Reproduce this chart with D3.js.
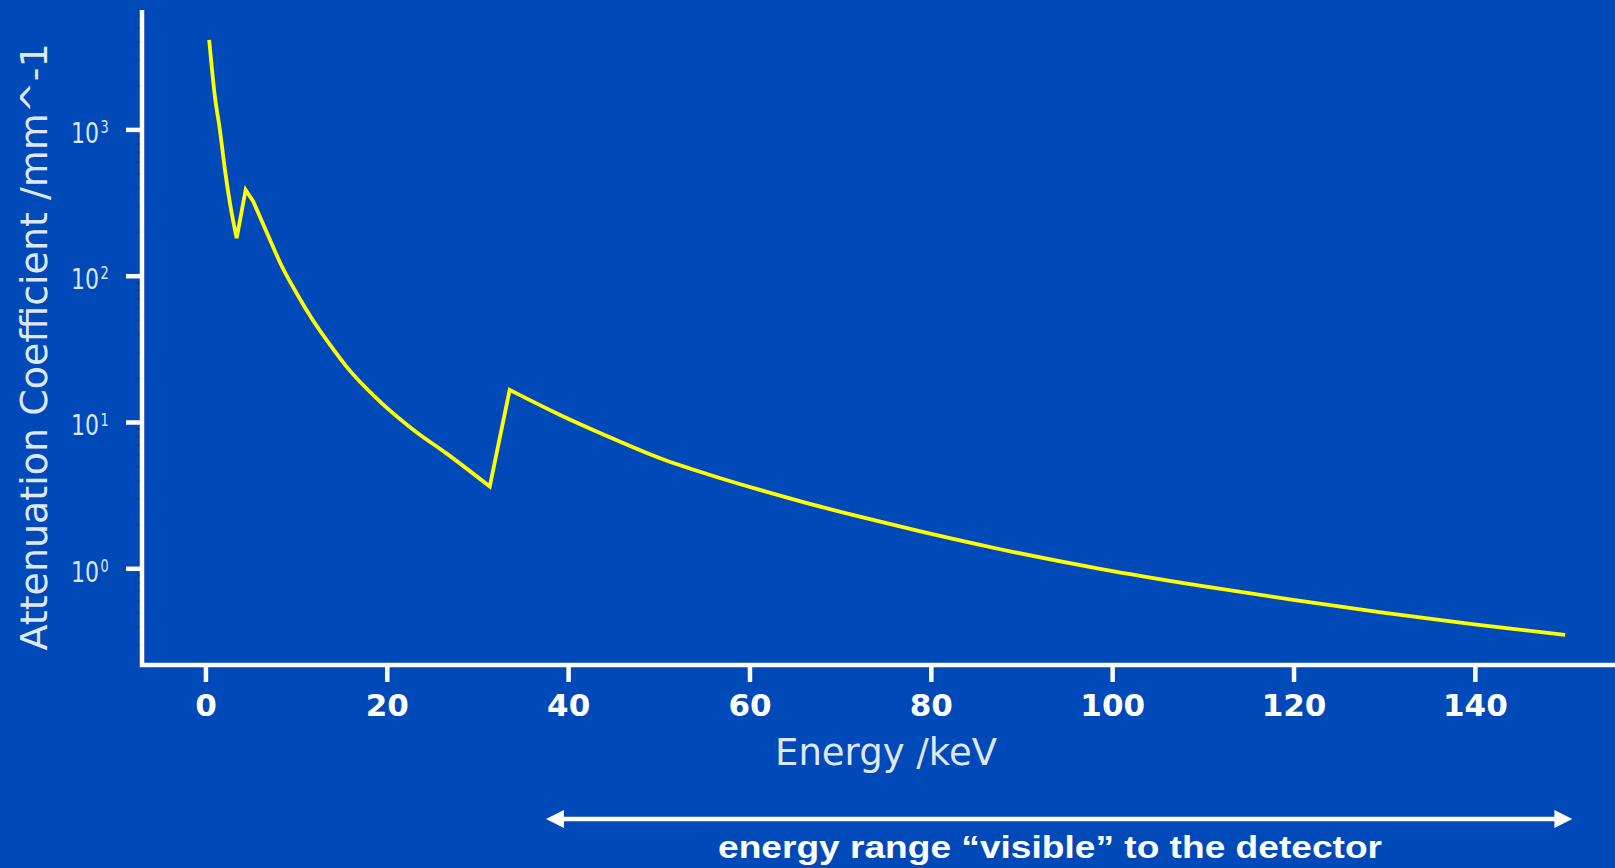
<!DOCTYPE html>
<html>
<head>
<meta charset="utf-8">
<script src="https://cdn.jsdelivr.net/npm/d3@7"></script>
<style>
  html, body { margin: 0; padding: 0; background: #0049b9; }
  svg { display: block; }
</style>
</head>
<body>
<svg id="chart" width="1615" height="868"></svg>
<script>
// energy (keV) and attenuation coefficient (mm^-1)
var energy = [0.36, 0.99, 1.54, 2.1, 2.65, 3.39, 4.38, 5.22, 7.4, 8.2, 10.0, 11.8, 13.7, 15.5, 19.2, 22.9, 26.6, 31.3,
  33.5, 39.0, 44.6, 50.1, 55.6, 61.1, 66.6, 72.1, 78.8, 87.6, 98.6, 109.6, 120.1, 129.8, 140.1, 149.9];
var mu = [4120, 1690, 1000, 533, 316, 182, 389, 324, 159, 123, 76.5, 50, 33.9, 24.1, 13.9, 8.9, 6.1, 3.65,
  16.7, 11.3, 7.9, 5.7, 4.38, 3.46, 2.78, 2.27, 1.80, 1.36, 1.00, 0.767, 0.61, 0.502, 0.416, 0.353];
// absorption edges: the curve breaks sharply at these energies
var edges = [3.39, 4.38, 5.22, 31.3, 33.5];

var xTicks = [0, 20, 40, 60, 80, 100, 120, 140];
var yTicks = [1, 10, 100, 1000];
var yTickExp = ["0", "1", "2", "3"];
var detectorRange = [37.5, 150.7];

var svg = d3.select("#chart"),
  width = +svg.attr("width"),
  height = +svg.attr("height");

var x = d3.scaleLinear().domain([-7.05, 155.4]).range([142, width]);
var y = d3.scaleLog().domain([0.22, 6600]).range([665, 10]);

var light = "#dfe6f4";

// minor log ticks (dark, tiny)
var minor = [];
[0.1, 1, 10, 100, 1000].forEach(function(d) {
  for (var k = 2; k < 10; k++) {
    var v = d * k;
    if (v > 0.22 && v < 6600) minor.push(v);
  }
});
svg.append("g").selectAll("line")
  .data(minor)
  .enter().append("line")
  .attr("x1", 137).attr("x2", 141)
  .attr("y1", function(d) { return y(d); })
  .attr("y2", function(d) { return y(d); })
  .attr("stroke", "#1c2c5c")
  .attr("stroke-width", 1.6);

// y major ticks
var yt = svg.append("g").selectAll("g")
  .data(yTicks)
  .enter().append("g")
  .attr("transform", function(d) { return "translate(0," + y(d) + ")"; });
yt.append("line")
  .attr("x1", 126).attr("x2", 142)
  .attr("stroke", "#fff").attr("stroke-width", 4.5);
var lab = yt.append("g").attr("transform", "translate(99,0) scale(0.76,1)");
lab.append("text")
  .attr("y", 13)
  .attr("text-anchor", "end")
  .attr("font-family", "DejaVu Sans")
  .attr("font-size", 29)
  .attr("fill", light)
  .text("10");
lab.append("text")
  .attr("x", 2).attr("y", 3)
  .attr("font-family", "DejaVu Sans")
  .attr("font-size", 17)
  .attr("fill", light)
  .text(function(d, i) { return yTickExp[i]; });

// x ticks
var xt = svg.append("g").selectAll("g")
  .data(xTicks)
  .enter().append("g")
  .attr("transform", function(d) { return "translate(" + x(d) + ",0)"; });
xt.append("line")
  .attr("y1", 665).attr("y2", 682)
  .attr("stroke", "#fff").attr("stroke-width", 4.5);
xt.append("text")
  .attr("y", 716)
  .attr("text-anchor", "middle")
  .attr("font-family", "DejaVu Sans")
  .attr("font-weight", "bold")
  .attr("font-size", 31)
  .attr("fill", "#fff")
  .text(function(d) { return d; });

// axis spines
svg.append("path")
  .attr("d", "M142,10V665H" + width)
  .attr("fill", "none")
  .attr("stroke", "#fff")
  .attr("stroke-width", 4.5);

// curve: smooth between edges, straight across them
var pts = energy.map(function(e, i) { return [e, mu[i]]; });
var segs = [], cur = [];
pts.forEach(function(p) {
  cur.push(p);
  if (edges.indexOf(p[0]) >= 0 && cur.length > 1) {
    segs.push(cur);
    cur = [p];
  }
});
if (cur.length > 1) segs.push(cur);

var line = d3.line()
  .x(function(d) { return x(d[0]); })
  .y(function(d) { return y(d[1]); })
  .curve(d3.curveMonotoneX);

var dstr = segs.map(function(s, i) {
  var p = line(s);
  return i ? "L" + p.slice(1) : p;
}).join("");

svg.append("path")
  .attr("d", dstr)
  .attr("fill", "none")
  .attr("stroke", "#ffff00")
  .attr("stroke-width", 3.8)
  .attr("stroke-linejoin", "miter");

// axis labels
svg.append("text")
  .attr("transform", "translate(47,347) rotate(-90)")
  .attr("text-anchor", "middle")
  .attr("font-family", "DejaVu Sans")
  .attr("font-size", 38)
  .attr("fill", light)
  .text("Attenuation Coefficient /mm^-1");

svg.append("text")
  .attr("x", 886).attr("y", 765)
  .attr("text-anchor", "middle")
  .attr("font-family", "DejaVu Sans")
  .attr("font-size", 37)
  .attr("fill", light)
  .text("Energy /keV");

// detector range arrow
var ax0 = x(detectorRange[0]), ax1 = x(detectorRange[1]), ay = 819;
svg.append("line")
  .attr("x1", ax0 + 10).attr("x2", ax1 - 10)
  .attr("y1", ay).attr("y2", ay)
  .attr("stroke", "#fff").attr("stroke-width", 4.5);
svg.append("path")
  .attr("d", "M" + ax0 + "," + ay + "l18,-9v18z")
  .attr("fill", "#fff");
svg.append("path")
  .attr("d", "M" + ax1 + "," + ay + "l-18,-9v18z")
  .attr("fill", "#fff");

svg.append("text")
  .attr("x", 1050).attr("y", 858)
  .attr("text-anchor", "middle")
  .attr("font-family", "Liberation Sans, Arial, sans-serif")
  .attr("font-weight", "bold")
  .attr("font-size", 32)
  .attr("textLength", 664)
  .attr("lengthAdjust", "spacingAndGlyphs")
  .attr("fill", "#fff")
  .text("energy range \u201cvisible\u201d to the detector");
</script>
</body>
</html>
